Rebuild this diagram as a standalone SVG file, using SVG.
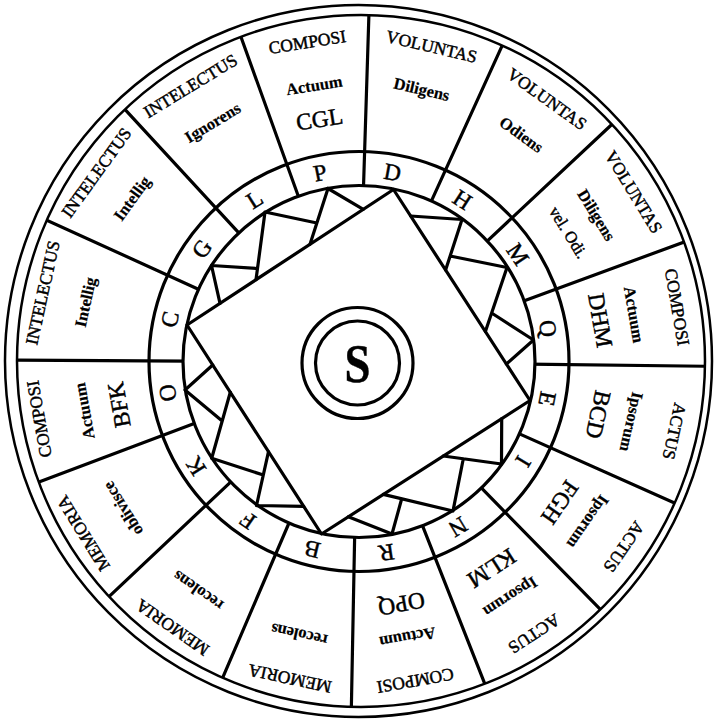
<svg xmlns="http://www.w3.org/2000/svg" width="715" height="719" viewBox="0 0 715 719">
<style>
text{font-family:"Liberation Serif","Times New Roman",serif;text-anchor:middle;dominant-baseline:central;fill:#000;stroke:#000;stroke-width:0.45}
.h{font-size:17.5px}
.s{font-size:16.5px;font-weight:bold;stroke-width:0.2}
.b{font-size:23.5px}
.v{font-size:16.5px}
.L{font-size:23.5px}
.ln{fill:none;stroke:#000;stroke-width:3.2;stroke-linecap:round}
.oc{fill:none;stroke:#000;stroke-width:2.5}
</style>
<defs>
<clipPath id="innerClip"><ellipse cx="361" cy="361" rx="344" ry="346"/></clipPath>
</defs>
<rect width="715" height="719" fill="#fff"/>
<g id="rim">
<ellipse class="oc" cx="358.5" cy="361" rx="353.5" ry="356"/>
<ellipse class="oc" cx="361" cy="361" rx="344" ry="346"/>
</g>
<g id="connectors">
<g id="dividers" clip-path="url(#innerClip)">
<line class="ln" x1="358" y1="192" x2="358" y2="2" transform="rotate(1.8 358 362)"/>
<line class="ln" x1="358" y1="192" x2="358" y2="2" transform="rotate(24.5 358 362)"/>
<line class="ln" x1="358" y1="192" x2="358" y2="2" transform="rotate(46.9 358 362)"/>
<line class="ln" x1="358" y1="192" x2="358" y2="2" transform="rotate(69.8 358 362)"/>
<line class="ln" x1="358" y1="192" x2="358" y2="2" transform="rotate(90.7 358 362)"/>
<line class="ln" x1="358" y1="192" x2="358" y2="2" transform="rotate(114 358 362)"/>
<line class="ln" x1="358" y1="192" x2="358" y2="2" transform="rotate(135.6 358 362)"/>
<line class="ln" x1="358" y1="192" x2="358" y2="2" transform="rotate(158.5 358 362)"/>
<line class="ln" x1="358" y1="192" x2="358" y2="2" transform="rotate(181.1 358 362)"/>
<line class="ln" x1="358" y1="192" x2="358" y2="2" transform="rotate(203.2 358 362)"/>
<line class="ln" x1="358" y1="192" x2="358" y2="2" transform="rotate(226.7 358 362)"/>
<line class="ln" x1="358" y1="192" x2="358" y2="2" transform="rotate(249.4 358 362)"/>
<line class="ln" x1="358" y1="192" x2="358" y2="2" transform="rotate(270.3 358 362)"/>
<line class="ln" x1="358" y1="192" x2="358" y2="2" transform="rotate(294.5 358 362)"/>
<line class="ln" x1="358" y1="192" x2="358" y2="2" transform="rotate(317.3 358 362)"/>
<line class="ln" x1="358" y1="192" x2="358" y2="2" transform="rotate(340.2 358 362)"/>
</g>
</g>
<g id="letter-ring">
<circle class="ln" cx="359" cy="361.5" r="210"/>
<circle cx="359" cy="361.5" r="176" fill="#fff" stroke="#000" stroke-width="3.2"/>
<text class="L" x="358" y="169" transform="rotate(348.7 358 362)">P</text>
<text class="L" x="358" y="169" transform="rotate(10.3 358 362)">D</text>
<text class="L" x="358" y="169" transform="rotate(32.75 358 362)">H</text>
<text class="L" x="358" y="169" transform="rotate(56 358 362)">M</text>
<text class="L" x="358" y="169" transform="rotate(80 358 362)">Q</text>
<text class="L" x="358" y="169" transform="rotate(101 358 362)">E</text>
<text class="L" x="358" y="169" transform="rotate(121 358 362)">I</text>
<text class="L" x="358" y="169" transform="rotate(148.7 358 362)">N</text>
<text class="L" x="358" y="169" transform="rotate(171.5 358 362)">R</text>
<text class="L" x="358" y="169" transform="rotate(193.7 358 362)">B</text>
<text class="L" x="358" y="169" transform="rotate(214.8 358 362)">F</text>
<text class="L" x="358" y="169" transform="rotate(237.3 358 362)">K</text>
<text class="L" x="358" y="169" transform="rotate(260.8 358 362)">O</text>
<text class="L" x="358" y="169" transform="rotate(282.8 358 362)">C</text>
<text class="L" x="358" y="169" transform="rotate(306 358 362)">G</text>
<text class="L" x="358" y="169" transform="rotate(327.6 358 362)">L</text>
</g>
<g id="square">
<polygon class="ln" stroke-linejoin="round" points="393.5,189.5 530,400.5 321.5,534 187,325"/>
</g>
<g id="pattern">
<path class="ln" d="M328,188.5L363.3,209.3M328,188.5L310,244.3M265,212L316.9,223M265,212L256,279.7M211.5,265.5L257.5,268.5M211.5,265.5L220,303.4"/>
<path class="ln" d="M462,219.5L410.6,216M462,219.5L445.6,270M507,267.5L450.1,256M507,267.5L485.4,331.5M533.5,340L491.6,313M533.5,340L506.4,364"/>
<path class="ln" d="M501.5,464L501.7,418.6M501.5,464L443.3,456M453,511L463.3,458.8M453,511L383.3,494.4M392,534L401.7,498.8M392,534L348.3,516.8"/>
<path class="ln" d="M256.5,505.5L303.7,506.3M256.5,505.5L268.5,451.7M211.7,458.3L263.3,475M211.7,458.3L230.3,392.3M185,390L222.2,421M185,390L212.7,365"/>
</g>
<g id="center-S">
<circle class="ln" cx="357.5" cy="363" r="55.5"/>
<circle class="ln" cx="357.5" cy="363" r="42"/>
<text x="0" y="0" font-size="55" font-weight="bold" transform="translate(357.5,364) scale(0.85,1)">S</text>
</g>
<g id="sector-composi-cgl" transform="rotate(351 358 362)">
<text class="h" x="358" y="38">COMPOSI</text><text class="s" x="358" y="82">Actuum</text><text class="b" x="358" y="116">CGL</text>
</g>
<g id="sector-voluntas-diligens" transform="rotate(13.15 358 362)">
<text class="h" x="358" y="38">VOLUNTAS</text><text class="s" x="358" y="82">Diligens</text>
</g>
<g id="sector-voluntas-odiens" transform="rotate(35.7 358 362)">
<text class="h" x="358" y="38">VOLUNTAS</text><text class="s" x="358" y="82">Odiens</text>
</g>
<g id="sector-voluntas-diligens-vel-odi" transform="rotate(58.35 358 362)">
<text class="h" x="358" y="38">VOLUNTAS</text><text class="s" x="358" y="82">Diligens</text><text class="v" x="358" y="115">vel. Odi.</text>
</g>
<g id="sector-composi-dhm" transform="rotate(80.25 358 362)">
<text class="h" x="358" y="38">COMPOSI</text><text class="s" x="358" y="82">Actuum</text><text class="b" x="358" y="116">DHM</text>
</g>
<g id="sector-actus-bcd" transform="rotate(102.35 358 362)">
<text class="h" x="358" y="38">ACTUS</text><text class="s" x="358" y="82">Ipsorum</text><text class="b" x="358" y="116">BCD</text>
</g>
<g id="sector-actus-fgh" transform="rotate(124.8 358 362)">
<text class="h" x="358" y="38">ACTUS</text><text class="s" x="358" y="82">Ipsorum</text><text class="b" x="358" y="116">FGH</text>
</g>
<g id="sector-actus-klm" transform="rotate(147.05 358 362)">
<text class="h" x="358" y="38">ACTUS</text><text class="s" x="358" y="82">Ipsorum</text><text class="b" x="358" y="116">KLM</text>
</g>
<g id="sector-composi-opq" transform="rotate(169.8 358 362)">
<text class="h" x="358" y="38">COMPOSI</text><text class="s" x="358" y="82">Actuum</text><text class="b" x="358" y="116">OPQ</text>
</g>
<g id="sector-memoria-recolens-1" transform="rotate(192.15 358 362)">
<text class="h" x="358" y="38">MEMORIA</text><text class="s" x="358" y="83">recolens</text>
</g>
<g id="sector-memoria-recolens-2" transform="rotate(214.95 358 362)">
<text class="h" x="358" y="38">MEMORIA</text><text class="s" x="358" y="83">recolens</text>
</g>
<g id="sector-memoria-oblivisce" transform="rotate(238.05 358 362)">
<text class="h" x="358" y="38">MEMORIA</text><text class="s" x="358" y="85">oblivisce</text>
</g>
<g id="sector-composi-bfk" transform="rotate(259.85 358 362)">
<text class="h" x="358" y="38">COMPOSI</text><text class="s" x="358" y="84">Actuum</text><text class="b" x="358" y="119">BFK</text>
</g>
<g id="sector-intelectus-intellig-1" transform="rotate(282.4 358 362)">
<text class="h" x="358" y="39">INTELECTUS</text><text class="s" x="358" y="83">Intellig</text>
</g>
<g id="sector-intelectus-intellig-2" transform="rotate(305.9 358 362)">
<text class="h" x="358" y="39">INTELECTUS</text><text class="s" x="358" y="83">Intellig</text>
</g>
<g id="sector-intelectus-ignorens" transform="rotate(328.75 358 362)">
<text class="h" x="358" y="39">INTELECTUS</text><text class="s" x="358" y="82">Ignorens</text>
</g>
</svg>
